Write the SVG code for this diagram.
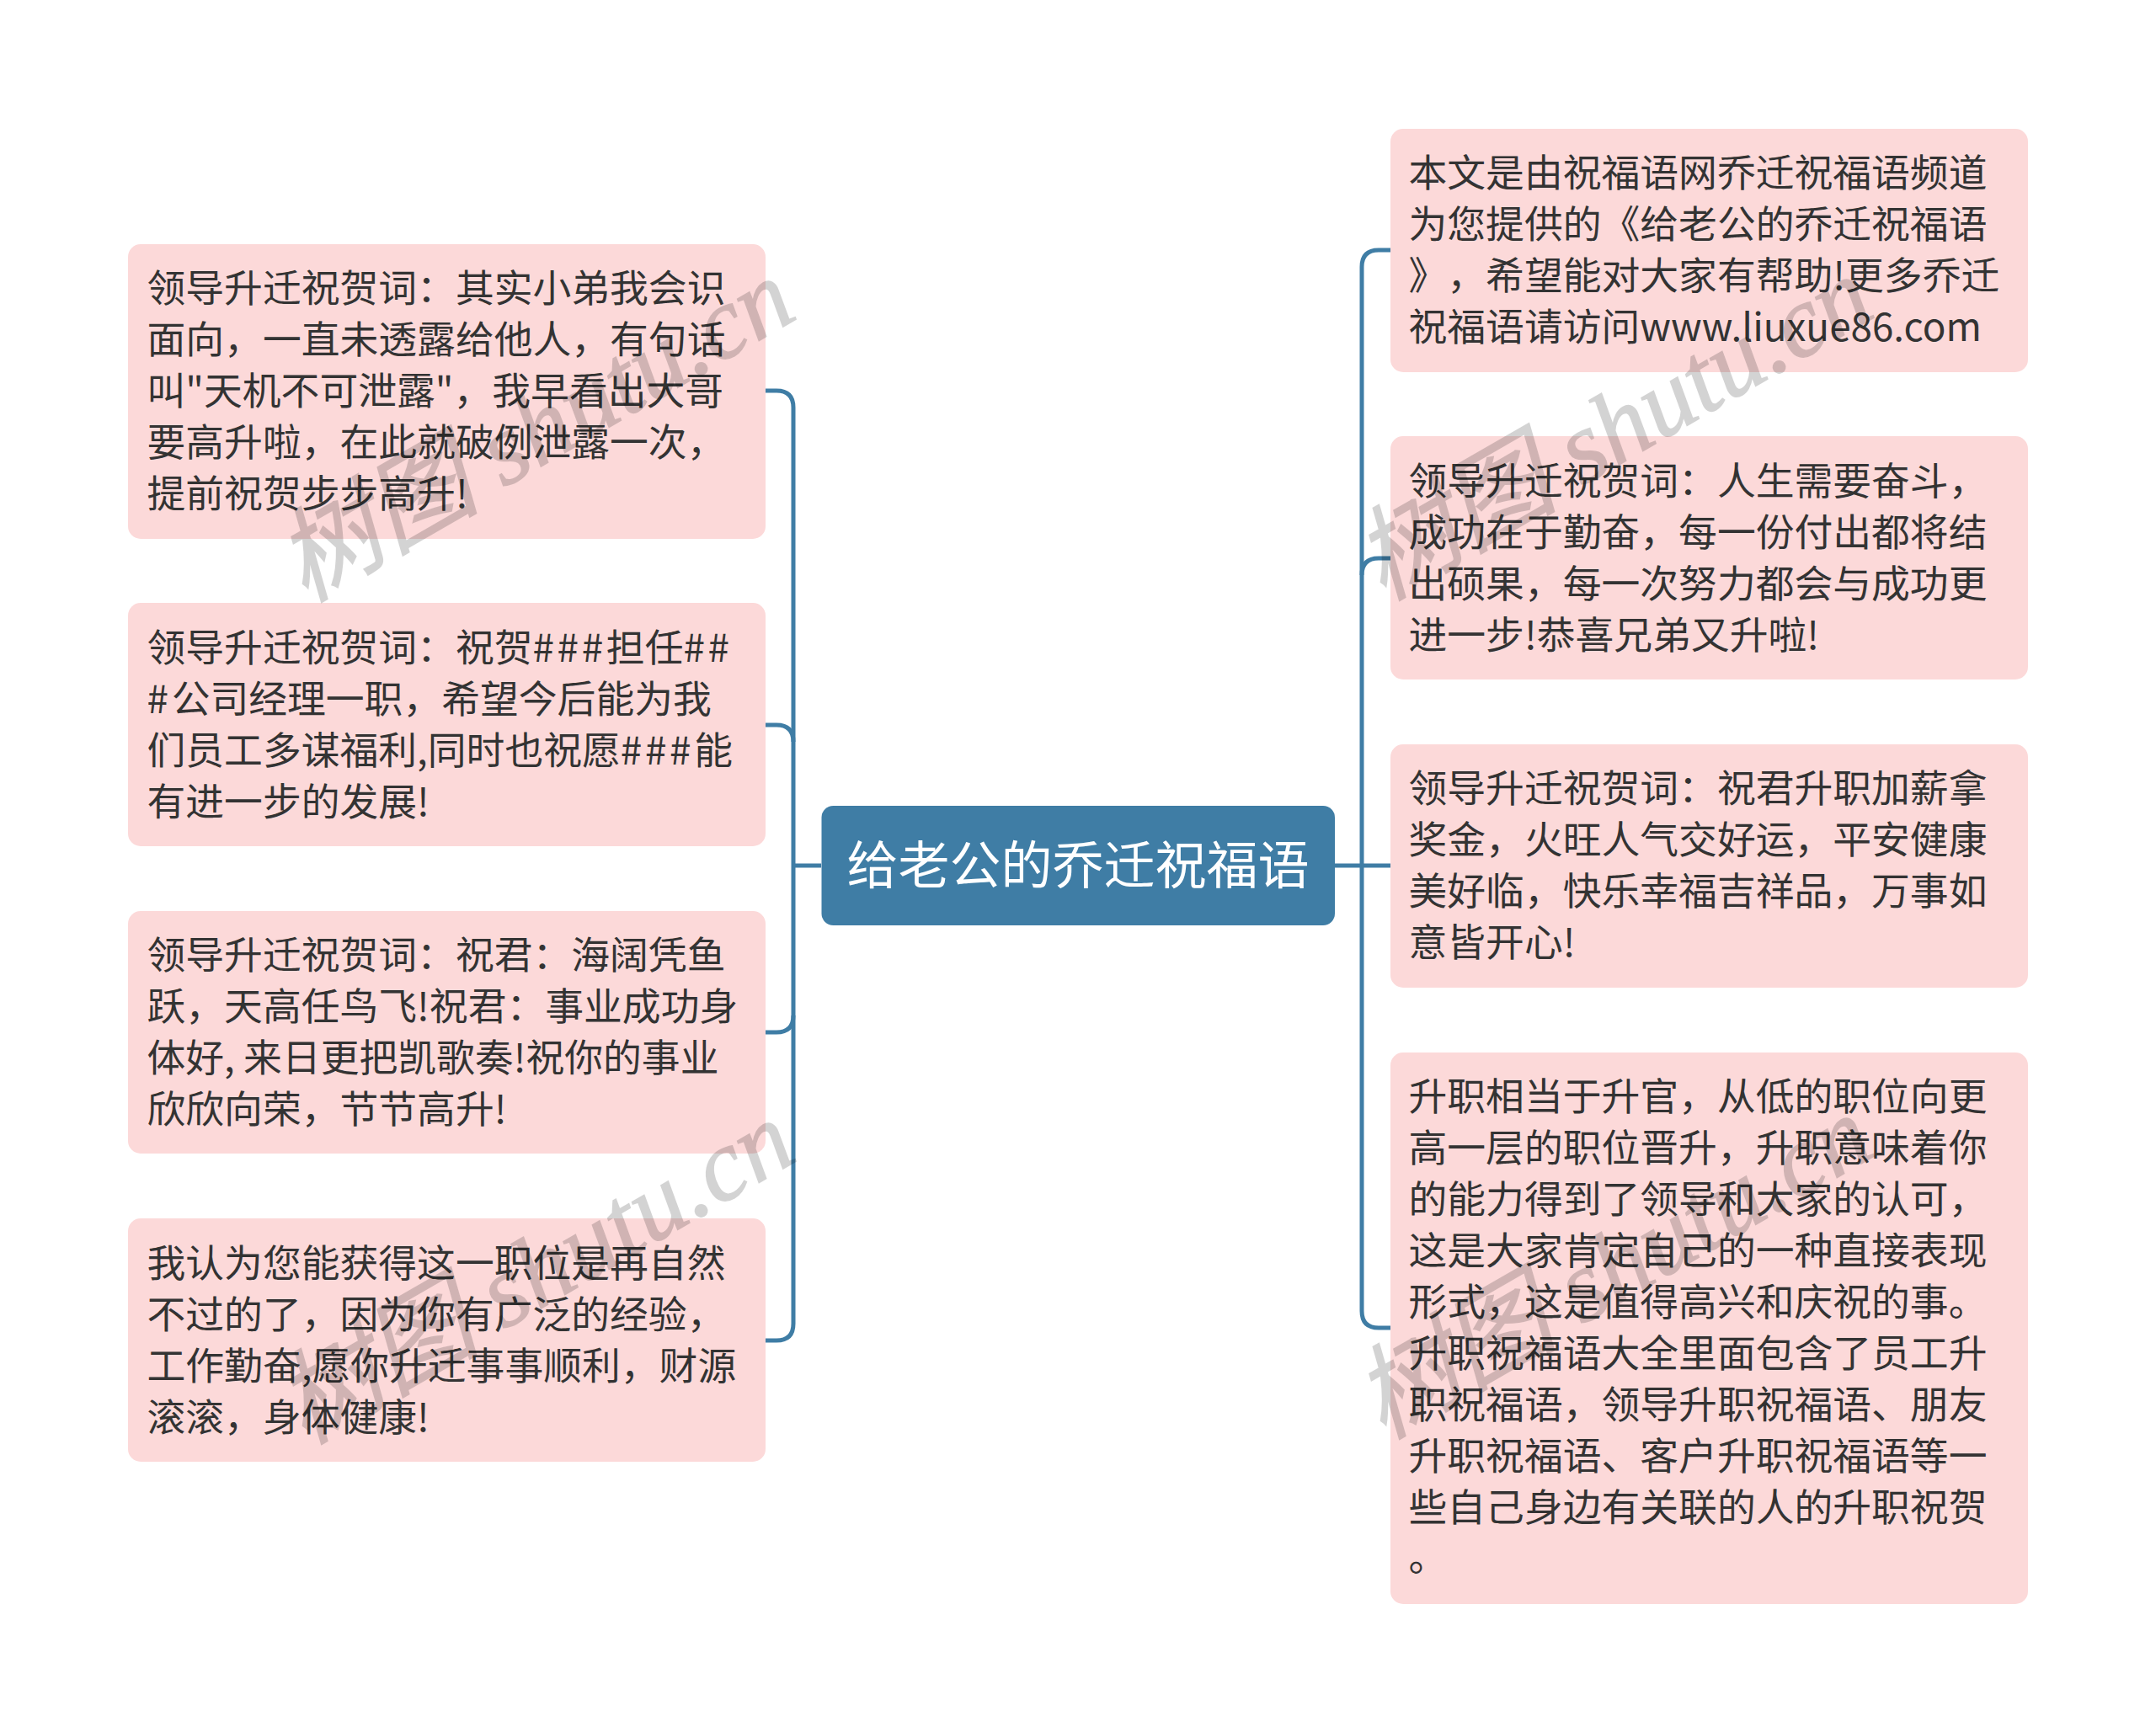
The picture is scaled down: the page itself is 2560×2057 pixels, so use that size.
<svg xmlns="http://www.w3.org/2000/svg" width="2560" height="2057" viewBox="0 0 2560 2057">
<style>
.n rect{fill:#fcd9d9}
.n text{font-family:"Noto Sans CJK SC","Noto Sans",sans-serif;font-size:45.8px;fill:#333;text-spacing-trim:space-all}
.h{letter-spacing:3.7px}
.c path{fill:none;stroke:#3f7da5;stroke-width:5}
.w text{font-family:"Liberation Serif","Noto Sans CJK SC",serif;font-style:italic;font-size:121px;fill:#000;stroke:#000;stroke-width:1.500;opacity:.17}
</style>
<rect width="2560" height="2057" fill="#fff"/>
<g class="c" id="connectors">
<path d="M975 1028H942"/>
<path d="M909 464H922Q942 464 942 484V1572Q942 1592 922 1592H909"/>
<path d="M909 861H922Q942 861 942 881"/>
<path d="M909 1226H922Q942 1226 942 1206"/>
<path d="M1585 1028H1651"/>
<path d="M1651 297H1637Q1617 297 1617 317V1557Q1617 1577 1637 1577H1651"/>
<path d="M1651 663H1637Q1617 663 1617 683"/>
</g>
<g id="root"><rect x="975.500" y="957" width="609.500" height="142" rx="14" fill="#3f7da5"/><text x="1280" y="1050" text-anchor="middle" font-family="Noto Sans CJK SC,Noto Sans,sans-serif" font-size="61" fill="#fff">给老公的乔迁祝福语</text></g>
<g class="n" id="left1"><rect x="152" y="290" width="757" height="350" rx="15"/>
<text x="174.500" y="359">领导升迁祝贺词：其实小弟我会识</text><text x="174.500" y="420">面向，一直未透露给他人，有句话</text><text x="174.500" y="481">叫"天机不可泄露"，我早看出大哥</text><text x="174.500" y="542">要高升啦，在此就破例泄露一次，</text><text x="174.500" y="603">提前祝贺步步高升!</text></g>
<g class="n" id="left2"><rect x="152" y="716" width="757" height="289" rx="15"/>
<text x="174.500" y="786">领导升迁祝贺词：祝贺<tspan class="h">###</tspan>担任<tspan class="h">##</tspan></text><text x="174.500" y="847"><tspan class="h">#</tspan>公司经理一职，希望今后能为我</text><text x="174.500" y="908">们员工多谋福利,同时也祝愿<tspan class="h">###</tspan>能</text><text x="174.500" y="969">有进一步的发展!</text></g>
<g class="n" id="left3"><rect x="152" y="1082" width="757" height="288" rx="15"/>
<text x="174.500" y="1151">领导升迁祝贺词：祝君：海阔凭鱼</text><text x="174.500" y="1212">跃，天高任鸟飞!祝君：事业成功身</text><text x="174.500" y="1273">体好, 来日更把凯歌奏!祝你的事业</text><text x="174.500" y="1334">欣欣向荣，节节高升!</text></g>
<g class="n" id="left4"><rect x="152" y="1447" width="757" height="289" rx="15"/>
<text x="174.500" y="1517">我认为您能获得这一职位是再自然</text><text x="174.500" y="1578">不过的了，因为你有广泛的经验，</text><text x="174.500" y="1639">工作勤奋,愿你升迁事事顺利，财源</text><text x="174.500" y="1700">滚滚，身体健康!</text></g>
<g class="n" id="right1"><rect x="1651" y="153" width="757" height="289" rx="15"/>
<text x="1672.500" y="222">本文是由祝福语网乔迁祝福语频道</text><text x="1672.500" y="283">为您提供的《给老公的乔迁祝福语</text><text x="1672.500" y="344">》，希望能对大家有帮助!更多乔迁</text><text x="1672.500" y="405">祝福语请访问www.liuxue86.com</text></g>
<g class="n" id="right2"><rect x="1651" y="518" width="757" height="289" rx="15"/>
<text x="1672.500" y="588">领导升迁祝贺词：人生需要奋斗，</text><text x="1672.500" y="649">成功在于勤奋，每一份付出都将结</text><text x="1672.500" y="710">出硕果，每一次努力都会与成功更</text><text x="1672.500" y="771">进一步!恭喜兄弟又升啦!</text></g>
<g class="n" id="right3"><rect x="1651" y="884" width="757" height="289" rx="15"/>
<text x="1672.500" y="953">领导升迁祝贺词：祝君升职加薪拿</text><text x="1672.500" y="1014">奖金，火旺人气交好运，平安健康</text><text x="1672.500" y="1075">美好临，快乐幸福吉祥品，万事如</text><text x="1672.500" y="1136">意皆开心!</text></g>
<g class="n" id="right4"><rect x="1651" y="1250" width="757" height="655" rx="15"/>
<text x="1672.500" y="1319">升职相当于升官，从低的职位向更</text><text x="1672.500" y="1380">高一层的职位晋升，升职意味着你</text><text x="1672.500" y="1441">的能力得到了领导和大家的认可，</text><text x="1672.500" y="1502">这是大家肯定自己的一种直接表现</text><text x="1672.500" y="1563">形式，这是值得高兴和庆祝的事。</text><text x="1672.500" y="1624">升职祝福语大全里面包含了员工升</text><text x="1672.500" y="1685">职祝福语，领导升职祝福语、朋友</text><text x="1672.500" y="1746">升职祝福语、客户升职祝福语等一</text><text x="1672.500" y="1807">些自己身边有关联的人的升职祝贺</text><text x="1672.500" y="1866">。</text></g>
<g class="w" id="watermark">
<text transform="translate(362 716) rotate(-30)">树图 shutu.cn</text>
<text transform="translate(1642 714) rotate(-30)">树图 shutu.cn</text>
<text transform="translate(362 1716) rotate(-30)">树图 shutu.cn</text>
<text transform="translate(1642 1710) rotate(-30)">树图 shutu.cn</text>
</g>
</svg>
